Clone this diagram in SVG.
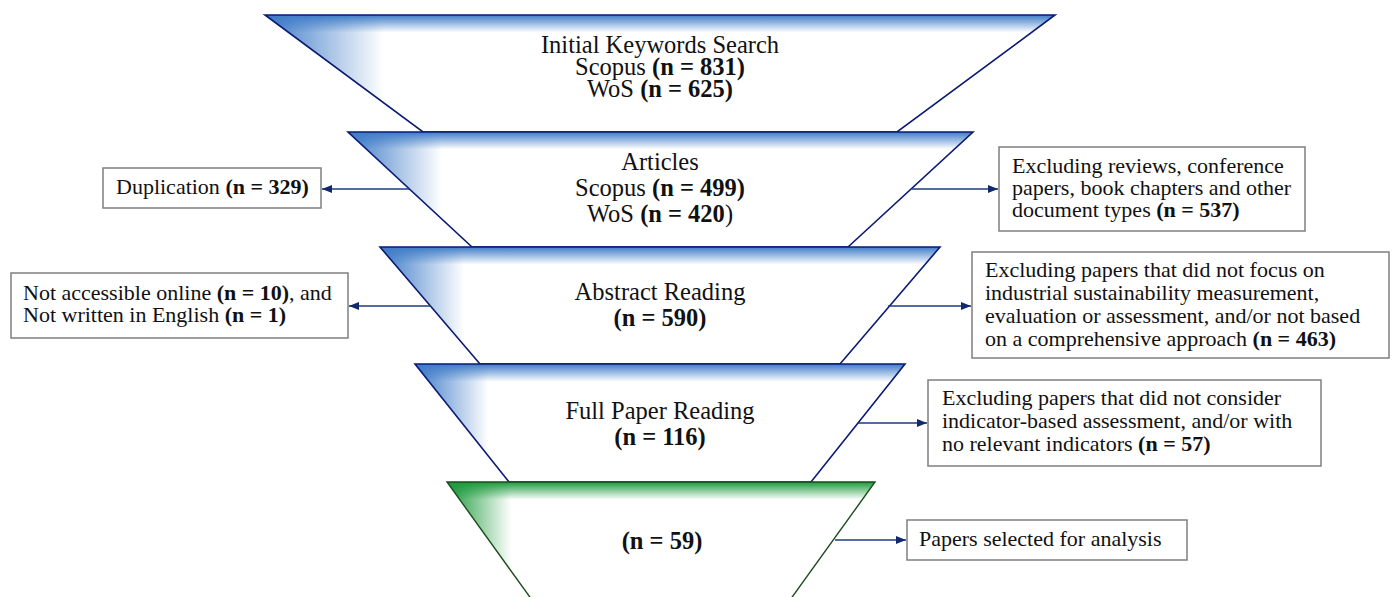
<svg xmlns="http://www.w3.org/2000/svg" width="1397" height="597" viewBox="0 0 1397 597">
<style>
.bg{fill:#ffffff}
.gb{fill:url(#gbH)}
.gbv{fill:url(#gbV)}
.gg{fill:url(#ggH)}
.ggv{fill:url(#ggV)}
.eb{fill:none;stroke:#0b1a72;stroke-width:1.6;stroke-linejoin:miter}
.eg{fill:none;stroke:#1d4a1d;stroke-width:1.4}
.t{font-family:"Liberation Serif","Times New Roman",serif;font-size:24.5px;fill:#111;text-anchor:middle}
.bx{fill:#fff;stroke:#7f7f7f;stroke-width:1.5}
.bt{font-family:"Liberation Serif","Times New Roman",serif;font-size:22px;fill:#111}
.b{font-weight:bold}
.c{stroke:#1f3a80;stroke-width:1.3;fill:none;marker-end:url(#ah)}
</style>
<defs>
<linearGradient id="gbH" x1="0" y1="0" x2="0.15" y2="0">
<stop offset="0" stop-color="#3f7cc8" stop-opacity="1"/>
<stop offset="1" stop-color="#3f7cc8" stop-opacity="0"/>
</linearGradient>
<linearGradient id="gbV" x1="0" y1="0" x2="0" y2="0.15">
<stop offset="0" stop-color="#3f7cc8" stop-opacity="1"/>
<stop offset="1" stop-color="#3f7cc8" stop-opacity="0"/>
</linearGradient>
<linearGradient id="ggH" x1="0" y1="0" x2="0.15" y2="0">
<stop offset="0" stop-color="#1c9a3c" stop-opacity="1"/>
<stop offset="1" stop-color="#1c9a3c" stop-opacity="0"/>
</linearGradient>
<linearGradient id="ggV" x1="0" y1="0" x2="0" y2="0.15">
<stop offset="0" stop-color="#1c9a3c" stop-opacity="1"/>
<stop offset="1" stop-color="#1c9a3c" stop-opacity="0"/>
</linearGradient>
<marker id="ah" viewBox="0 0 10 10" refX="10" refY="5" markerWidth="10" markerHeight="10" markerUnits="userSpaceOnUse" orient="auto">
<path d="M0,1 L10,5 L0,9 z" fill="#10286e"/>
</marker>
</defs>

<g id="stage1">
<polygon class="bg" points="265,15 1055,15 897,132 423,132"/>
<polygon class="gb" points="265,15 1055,15 897,132 423,132"/>
<polygon class="gbv" points="265,15 1055,15 897,132 423,132"/>
<polygon class="eb" points="265,15 1055,15 897,132 423,132"/>
<text class="t" x="660" y="53">Initial Keywords Search</text>
<text class="t" x="660" y="75">Scopus <tspan class="b">(n = 831)</tspan></text>
<text class="t" x="660" y="97">WoS <tspan class="b">(n = 625)</tspan></text>
</g>

<g id="stage2">
<polygon class="bg" points="348,132 973,132 848,247 472,247"/>
<polygon class="gb" points="348,132 973,132 848,247 472,247"/>
<polygon class="gbv" points="348,132 973,132 848,247 472,247"/>
<polygon class="eb" points="348,132 973,132 848,247 472,247"/>
<text class="t" x="660" y="170">Articles</text>
<text class="t" x="660" y="196">Scopus <tspan class="b">(n = 499)</tspan></text>
<text class="t" x="660" y="222">WoS <tspan class="b">(n = 420</tspan>)</text>
</g>

<g id="stage3">
<polygon class="bg" points="380,247 940,247 840,364 480,364"/>
<polygon class="gb" points="380,247 940,247 840,364 480,364"/>
<polygon class="gbv" points="380,247 940,247 840,364 480,364"/>
<polygon class="eb" points="380,247 940,247 840,364 480,364"/>
<text class="t" x="660" y="300">Abstract Reading</text>
<text class="t b" x="660" y="326">(n = 590)</text>
</g>

<g id="stage4">
<polygon class="bg" points="415,364 905,364 811,482 509,482"/>
<polygon class="gb" points="415,364 905,364 811,482 509,482"/>
<polygon class="gbv" points="415,364 905,364 811,482 509,482"/>
<polygon class="eb" points="415,364 905,364 811,482 509,482"/>
<text class="t" x="660" y="419">Full Paper Reading</text>
<text class="t b" x="660" y="445">(n = 116)</text>
</g>

<g id="stage5">
<polygon class="bg" points="447,482 875,482 790,600 532,600"/>
<polygon class="gg" points="447,482 875,482 790,600 532,600"/>
<polygon class="ggv" points="447,482 875,482 790,600 532,600"/>
<polygon class="eg" points="447,482 875,482 790,600 532,600"/>
<text class="t b" x="662" y="549">(n = 59)</text>
</g>

<g id="box-duplication">
<rect class="bx" x="103" y="168" width="218" height="40"/>
<text class="bt" x="116" y="194">Duplication <tspan class="b">(n = 329)</tspan></text>
</g>

<g id="box-doctypes">
<rect class="bx" x="999" y="147" width="306" height="84"/>
<text class="bt" x="1012" y="173">Excluding reviews, conference</text>
<text class="bt" x="1012" y="195">papers, book chapters and other</text>
<text class="bt" x="1012" y="217">document types <tspan class="b">(n = 537)</tspan></text>
</g>

<g id="box-access">
<rect class="bx" x="11" y="273" width="337" height="65"/>
<text class="bt" x="23" y="300">Not accessible online <tspan class="b">(n = 10)</tspan>, and</text>
<text class="bt" x="23" y="322">Not written in English <tspan class="b">(n = 1)</tspan></text>
</g>

<g id="box-focus">
<rect class="bx" x="972" y="252" width="417" height="106"/>
<text class="bt" x="985" y="277">Excluding papers that did not focus on</text>
<text class="bt" x="985" y="300">industrial sustainability measurement,</text>
<text class="bt" x="985" y="323">evaluation or assessment, and/or not based</text>
<text class="bt" x="985" y="346">on a comprehensive approach <tspan class="b">(n = 463)</tspan></text>
</g>

<g id="box-indicators">
<rect class="bx" x="928" y="380" width="393" height="86"/>
<text class="bt" x="942" y="405">Excluding papers that did not consider</text>
<text class="bt" x="942" y="428">indicator-based assessment, and/or with</text>
<text class="bt" x="942" y="451">no relevant indicators <tspan class="b">(n = 57)</tspan></text>
</g>

<g id="box-selected">
<rect class="bx" x="907" y="520" width="280" height="40"/>
<text class="bt" x="919" y="546">Papers selected for analysis</text>
</g>

<g id="connectors">
<line class="c" x1="409" y1="189" x2="322" y2="189"/>
<line class="c" x1="912" y1="189" x2="998" y2="189"/>
<line class="c" x1="431" y1="306" x2="349" y2="306"/>
<line class="c" x1="888" y1="306" x2="971" y2="306"/>
<line class="c" x1="858" y1="423" x2="927" y2="423"/>
<line class="c" x1="835" y1="540" x2="906" y2="540"/>
</g>
</svg>
